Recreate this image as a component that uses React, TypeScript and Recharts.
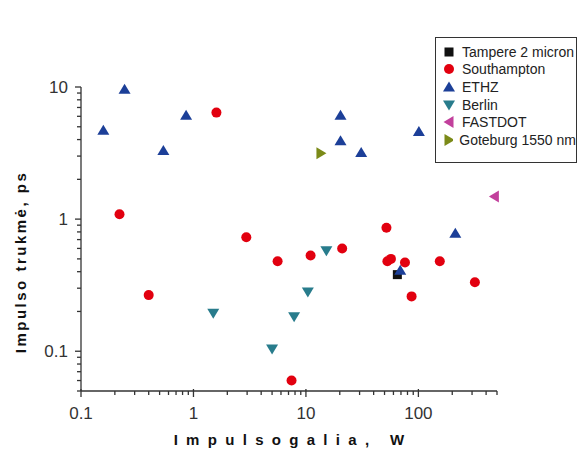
import React from "react";
import { ScatterChart, Scatter, XAxis, YAxis, Legend, Label } from "recharts";

// pulse power (W) and pulse duration (ps) per group
const tampereX = [65];
const tampereY = [0.38];

const southamptonX = [0.22, 0.4, 1.6, 2.95, 5.6, 11, 21, 52, 53, 57, 76, 155, 318, 87, 7.45];
const southamptonY = [1.09, 0.266, 6.4, 0.73, 0.48, 0.53, 0.6, 0.86, 0.48, 0.5, 0.47, 0.48, 0.333, 0.26, 0.06];

const ethzX = [0.158, 0.244, 0.54, 0.86, 20.3, 20.3, 31, 101, 213, 69];
const ethzY = [4.7, 9.6, 3.3, 6.1, 6.1, 3.92, 3.2, 4.6, 0.78, 0.41];

const berlinX = [1.5, 5.0, 7.85, 10.4, 15.2];
const berlinY = [0.194, 0.104, 0.182, 0.281, 0.575];

const fastdotX = [474];
const fastdotY = [1.48];

const goteburgX = [13.6];
const goteburgY = [3.15];

const xTicks = [
  0.1, 0.2, 0.3, 0.4, 0.5, 0.6, 0.7, 0.8, 0.9,
  1, 2, 3, 4, 5, 6, 7, 8, 9,
  10, 20, 30, 40, 50, 60, 70, 80, 90,
  100, 200, 300, 400, 500,
];
const yTicks = [
  0.05, 0.06, 0.07, 0.08, 0.09,
  0.1, 0.2, 0.3, 0.4, 0.5, 0.6, 0.7, 0.8, 0.9,
  1, 2, 3, 4, 5, 6, 7, 8, 9, 10,
];

const zip = (xs: number[], ys: number[]) => xs.map((x, i) => ({ x, y: ys[i] }));

type Kind = "square" | "circle" | "up" | "down" | "left" | "right";

const series: { name: string; kind: Kind; color: string; data: { x: number; y: number }[] }[] = [
  { name: "Tampere 2 micron", kind: "square", color: "#111111", data: zip(tampereX, tampereY) },
  { name: "Southampton", kind: "circle", color: "#e2000f", data: zip(southamptonX, southamptonY) },
  { name: "ETHZ", kind: "up", color: "#1c3f98", data: zip(ethzX, ethzY) },
  { name: "Berlin", kind: "down", color: "#287c8c", data: zip(berlinX, berlinY) },
  { name: "FASTDOT", kind: "left", color: "#c2409c", data: zip(fastdotX, fastdotY) },
  { name: "Goteburg 1550 nm", kind: "right", color: "#7b8a18", data: zip(goteburgX, goteburgY) },
];

const drawMarker = (kind: Kind, cx: number, cy: number, color: string) => {
  switch (kind) {
    case "square":
      return <rect x={cx - 4.5} y={cy - 4.5} width={9} height={9} fill={color} />;
    case "circle":
      return <circle cx={cx} cy={cy} r={5} fill={color} />;
    case "up":
      return <polygon points={`${cx},${cy - 5.5} ${cx - 6},${cy + 4.5} ${cx + 6},${cy + 4.5}`} fill={color} />;
    case "down":
      return <polygon points={`${cx},${cy + 5.5} ${cx - 6},${cy - 4.5} ${cx + 6},${cy - 4.5}`} fill={color} />;
    case "left":
      return <polygon points={`${cx - 5.5},${cy} ${cx + 4.5},${cy - 6} ${cx + 4.5},${cy + 6}`} fill={color} />;
    default:
      return <polygon points={`${cx + 5.5},${cy} ${cx - 4.5},${cy - 6} ${cx - 4.5},${cy + 6}`} fill={color} />;
  }
};

const isDecade = (v: number) => Math.abs(Math.log10(v) - Math.round(Math.log10(v))) < 1e-9;

const XTick = (props: any) => {
  const { x, y, payload } = props;
  const major = isDecade(payload.value);
  return (
    <g>
      <line x1={x} x2={x} y1={major ? y - 2 : y} y2={y + (major ? 6 : 4)} stroke="#333" strokeWidth={1.3} />
      {major && (
        <text x={x} y={y + 28} textAnchor="middle" fontSize={17} fill="#333">
          {payload.value}
        </text>
      )}
    </g>
  );
};

const YTick = (props: any) => {
  const { x, y, payload } = props;
  const major = isDecade(payload.value);
  return (
    <g>
      <line x1={x - (major ? 6 : 4)} x2={x} y1={y} y2={y} stroke="#333" strokeWidth={1.3} />
      {major && (
        <text x={x - 13} y={y + 6} textAnchor="end" fontSize={17} fill="#333">
          {payload.value}
        </text>
      )}
    </g>
  );
};

const renderLegend = () => (
  <div
    style={{
      border: "1.5px solid #333",
      width: 142,
      height: 126,
      boxSizing: "border-box",
      padding: "5px 0 0 6px",
      background: "#fff",
      overflow: "hidden",
      whiteSpace: "nowrap",
    }}
  >
    {series.map((s) => (
      <div key={s.name} style={{ display: "flex", alignItems: "center", height: 17.6, fontSize: 14, color: "#222" }}>
        <svg width={14} height={14} style={{ marginRight: 6 }}>
          {drawMarker(s.kind, 7, 7, s.color)}
        </svg>
        <span>{s.name}</span>
      </div>
    ))}
  </div>
);

const App = () => {
  return (
    <div style={{ position: "absolute", left: 0, top: 0, background: "#fff", fontFamily: "Arial, 'Liberation Sans', sans-serif" }}>
      <ScatterChart width={579} height={454} margin={{ top: 87, right: 82, bottom: 0, left: 0 }}>
        <XAxis
          type="number"
          dataKey="x"
          scale="log"
          domain={[0.1, 500]}
          ticks={xTicks}
          interval={0}
          tick={<XTick />}
          tickLine={false}
          tickSize={0}
          tickMargin={0}
          height={63}
          axisLine={{ stroke: "#333", strokeWidth: 1.3 }}
        >
          <Label
            value="Impulsogalia, W"
            position="insideBottom"
            offset={9}
            dx={4}
            style={{ fontSize: 15, fontWeight: "bold", letterSpacing: 8.3, fill: "#111" }}
          />
        </XAxis>
        <YAxis
          type="number"
          dataKey="y"
          scale="log"
          domain={[0.05, 10]}
          ticks={yTicks}
          interval={0}
          tick={<YTick />}
          tickLine={false}
          tickSize={0}
          tickMargin={0}
          width={81}
          axisLine={{ stroke: "#333", strokeWidth: 1.3 }}
        >
          <Label
            content={({ viewBox }: any) => {
              const cx = viewBox.x + 20;
              const cy = viewBox.y + viewBox.height / 2 + 23;
              return (
                <text
                  x={cx}
                  y={cy}
                  transform={`rotate(-90, ${cx}, ${cy})`}
                  textAnchor="middle"
                  dominantBaseline="central"
                  style={{ fontSize: 15, fontWeight: "bold", letterSpacing: 2.5, fill: "#111" }}
                >
                  Impulso trukmė, ps
                </text>
              );
            }}
          />
        </YAxis>
        <Legend
          content={renderLegend}
          layout="vertical"
          align="center"
          verticalAlign="middle"
          wrapperStyle={{ left: 435, top: 37, width: 142, height: 126 }}
        />
        {series.map((s) => (
          <Scatter
            key={s.name}
            name={s.name}
            data={s.data}
            fill={s.color}
            isAnimationActive={false}
            shape={(p: any) => drawMarker(s.kind, p.cx, p.cy, s.color)}
          />
        ))}
      </ScatterChart>
    </div>
  );
};

export default App;
